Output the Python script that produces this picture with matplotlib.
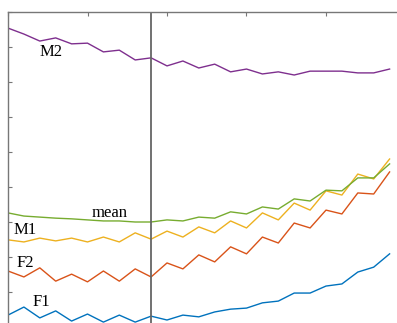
import numpy as np
import matplotlib
matplotlib.use('Agg')
import matplotlib.pyplot as plt

# time frames along the x axis
frames = np.arange(25)
onset = 9  # frame marked by the vertical line

# track values per speaker group
f1 = [0.34, 0.57, 0.26, 0.46, 0.17, 0.37, 0.14, 0.34, 0.14, 0.31, 0.20, 0.34, 0.29,
      0.43, 0.51, 0.54, 0.69, 0.74, 0.97, 0.97, 1.17, 1.23, 1.57, 1.71, 2.09]
f2 = [1.60, 1.43, 1.69, 1.31, 1.51, 1.29, 1.60, 1.31, 1.66, 1.43, 1.83, 1.66, 2.06,
      1.86, 2.29, 2.09, 2.57, 2.40, 2.97, 2.83, 3.34, 3.23, 3.83, 3.80, 4.43]
m1 = [2.49, 2.43, 2.54, 2.46, 2.54, 2.43, 2.57, 2.43, 2.69, 2.51, 2.74, 2.57, 2.86,
      2.69, 3.03, 2.83, 3.26, 3.06, 3.54, 3.34, 3.89, 3.77, 4.37, 4.23, 4.80]
m2 = [8.54, 8.37, 8.17, 8.26, 8.09, 8.11, 7.86, 7.91, 7.63, 7.69, 7.46, 7.60, 7.40,
      7.51, 7.29, 7.37, 7.23, 7.29, 7.20, 7.31, 7.31, 7.31, 7.26, 7.26, 7.37]
mean = [3.26, 3.17, 3.14, 3.11, 3.09, 3.06, 3.03, 3.03, 3.00, 3.00, 3.06, 3.03, 3.14,
        3.11, 3.29, 3.23, 3.43, 3.37, 3.66, 3.60, 3.91, 3.89, 4.26, 4.26, 4.66]

series = [('F1', f1, '#0072BD'), ('F2', f2, '#D95319'), ('M1', m1, '#EDB120'),
          ('M2', m2, '#7E2F8E'), ('mean', mean, '#77AC30')]

# label positions (frame, value)
etiquetas = {'F1': (2.08, 0.72), 'F2': (1.07, 1.83), 'M1': (1.07, 2.78),
             'M2': (2.7, 7.86), 'mean': (6.4, 3.25)}

W, H = 397, 323
fig = plt.figure(figsize=(W / 100, H / 100), dpi=100)
ax = fig.add_axes([8 / W, 1 - 327 / H, 397.5 / W, 315 / H])

for nome, valores, cor in series:
    ax.plot(frames, valores, color=cor, lw=1.0)
    ex, ey = etiquetas[nome]
    ax.text(ex, ey, nome, fontsize=12, family='Liberation Serif',
            ha='center', va='center', color='black')

ax.axvline(onset, color='#666666', lw=1.3)

ax.set_xlim(0, 25)
ax.set_ylim(0, 9)
ax.set_xticks(np.arange(0, 26, 5))
ax.set_yticks(np.arange(0, 10, 1))
ax.set_xticklabels([])
ax.set_yticklabels([])
ax.tick_params(direction='in', length=3, width=0.8, color='#777777',
               top=True, right=True)
for s in ax.spines.values():
    s.set_color('#777777')
    s.set_linewidth(1.0)

fig.savefig('out.png', dpi=100)
